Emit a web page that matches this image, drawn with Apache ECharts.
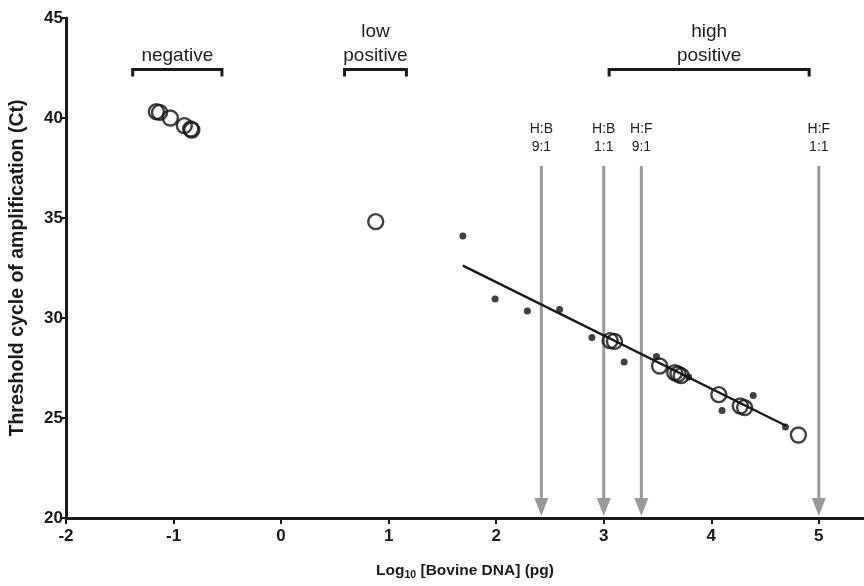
<!DOCTYPE html>
<html>
<head>
<meta charset="utf-8">
<script src="https://cdn.jsdelivr.net/npm/echarts@6/dist/echarts.min.js"></script>
<style>html,body{margin:0;padding:0;background:#fff;}#c{width:864px;height:586px;}</style>
</head>
<body>
<div id="c"></div>
<script>
// ---- data ----
const negativeX = [-1.16, -1.13, -1.03, -0.90, -0.84, -0.83];
const negativeY = [40.32, 40.28, 40.00, 39.62, 39.45, 39.40];
const lowX = [0.88];
const lowY = [34.82];
const highX = [3.06, 3.10, 3.52, 3.66, 3.69, 3.72, 4.07, 4.27, 4.31, 4.81];
const highY = [28.87, 28.83, 27.60, 27.27, 27.20, 27.12, 26.17, 25.60, 25.52, 24.15];
const stdX = [1.69, 1.99, 2.29, 2.59, 2.89, 3.19, 3.49, 3.79, 4.10, 4.39, 4.69];
const stdY = [34.10, 30.95, 30.35, 30.43, 29.02, 27.80, 28.08, 27.05, 25.37, 26.12, 24.55];
const fitX = [1.69, 4.70];
const fitY = [32.62, 24.60];
const arrowX = [2.42, 3.0, 3.35, 5.0];
const arrowTopY = 37.6;
const arrowLabels = ['H:B\n9:1', 'H:B\n1:1', 'H:F\n9:1', 'H:F\n1:1'];
const bracketStart = [-1.38, 0.59, 3.05];
const bracketEnd = [-0.55, 1.165, 4.91];
const bracketY = 42.43;
const bracketLabels = ['negative', 'low\npositive', 'high\npositive'];
const xTicks = [-2, -1, 0, 1, 2, 3, 4, 5];

const zip = (a, b) => a.map((v, i) => [v, b[i]]);
const FONT2 = '"Liberation Sans", Arial, sans-serif';

const chart = echarts.init(document.getElementById('c'), null, {renderer: 'canvas'});
const openCircle = {symbol: 'circle', symbolSize: 15, itemStyle: {color: 'rgba(0,0,0,0)', borderColor: '#111', borderWidth: 2.4}};

chart.setOption({
  animation: false,
  backgroundColor: '#fff',
  grid: {left: 66, right: 0, top: 18, bottom: 62, containLabel: false},
  xAxis: {
    type: 'value', min: -2, max: 5.42, interval: 1,
    splitLine: {show: false},
    axisLine: {onZero: false, lineStyle: {color: '#1a1a1a', width: 3}},
    axisTick: {length: 6, lineStyle: {color: '#1a1a1a', width: 2}, customValues: xTicks},
    axisLabel: {color: '#1a1a1a', fontSize: 17, fontWeight: 'bold', fontFamily: FONT2, margin: 10, customValues: xTicks},
    name: '{a|Log}{s|10}{a| [Bovine DNA] (pg)}',
    nameLocation: 'middle', nameGap: 42,
    nameTextStyle: {
      color: '#1a1a1a',
      rich: {
        a: {fontSize: 15.5, fontWeight: 'bold', fontFamily: FONT2, color: '#1a1a1a'},
        s: {fontSize: 10.5, fontWeight: 'bold', fontFamily: FONT2, color: '#1a1a1a', padding: [10, 0, 0, 0]}
      }
    }
  },
  yAxis: {
    type: 'value', min: 20, max: 45, interval: 5,
    splitLine: {show: false},
    axisLine: {onZero: false, lineStyle: {color: '#1a1a1a', width: 3}},
    axisTick: {length: 5, lineStyle: {color: '#1a1a1a', width: 2}},
    axisLabel: {color: '#1a1a1a', fontSize: 17, fontWeight: 'bold', fontFamily: FONT2, margin: 3},
    name: 'Threshold cycle of amplification (Ct)',
    nameLocation: 'middle', nameGap: 38,
    nameTextStyle: {color: '#1a1a1a', fontSize: 19.5, fontWeight: 'bold', fontFamily: FONT2}
  },
  series: [
    {
      type: 'custom', name: 'arrows', z: 1, clip: false,
      data: arrowX.map((x, i) => [x, arrowTopY, i]),
      renderItem: (params, api) => {
        const top = api.coord([api.value(0), api.value(1)]);
        const bot = api.coord([api.value(0), 20]);
        const x = top[0];
        const tip = bot[1] - 2;
        return {type: 'group', children: [
          {type: 'line', shape: {x1: x, y1: top[1], x2: x, y2: tip - 16}, style: {stroke: '#999', lineWidth: 3}},
          {type: 'polygon', shape: {points: [[x - 7, tip - 18], [x + 7, tip - 18], [x, tip]]}, style: {fill: '#999'}},
          {type: 'text', x: x, y: top[1] - 10, style: {text: arrowLabels[api.value(2)], align: 'center', verticalAlign: 'bottom', fontSize: 14, lineHeight: 18, fontFamily: FONT2, fill: '#222'}}
        ]};
      }
    },
    {
      type: 'custom', name: 'brackets', z: 3, clip: false,
      data: bracketStart.map((s, i) => [s, bracketEnd[i], bracketY, i]),
      renderItem: (params, api) => {
        const p1 = api.coord([api.value(0), api.value(2)]);
        const p2 = api.coord([api.value(1), api.value(2)]);
        return {type: 'group', children: [
          {type: 'polyline', shape: {points: [[p1[0], p1[1] + 7], [p1[0], p1[1]], [p2[0], p2[1]], [p2[0], p2[1] + 7]]}, style: {stroke: '#1a1a1a', lineWidth: 3, fill: null}},
          {type: 'text', x: (p1[0] + p2[0]) / 2, y: p1[1] - 2, style: {text: bracketLabels[api.value(3)], align: 'center', verticalAlign: 'bottom', fontSize: 19, lineHeight: 24, fontFamily: FONT2, fill: '#222'}}
        ]};
      }
    },
    {
      type: 'line', name: 'fit', data: zip(fitX, fitY), symbol: 'none', z: 4,
      lineStyle: {color: '#1a1a1a', width: 2.5}
    },
    {type: 'scatter', name: 'standards', data: zip(stdX, stdY), symbol: 'circle', symbolSize: 7, itemStyle: {color: '#111'}, z: 5},
    Object.assign({type: 'scatter', name: 'negative', data: zip(negativeX, negativeY), z: 6}, openCircle),
    Object.assign({type: 'scatter', name: 'low positive', data: zip(lowX, lowY), z: 6}, openCircle),
    Object.assign({type: 'scatter', name: 'high positive', data: zip(highX, highY), z: 6}, openCircle)
  ]
});
</script>
</body>
</html>
